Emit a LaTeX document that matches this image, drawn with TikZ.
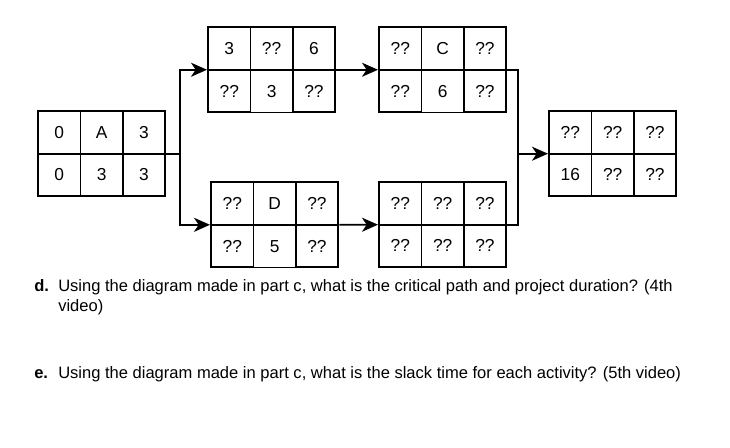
\documentclass[tikz,border=0pt]{standalone}
\usepackage{fontspec}
\setmainfont{Liberation Sans}
\usetikzlibrary{arrows.meta,positioning,matrix,calc}
\tikzset{
  cell/.style={rectangle,draw,line width=1.3pt,minimum width=31.75pt,
               minimum height=31.9pt,inner sep=0pt,
               font=\fontsize{13}{15}\selectfont},
  netbox/.style={matrix of nodes,inner sep=0pt,nodes={cell},
                 column sep=-1.3pt,row sep=-1.3pt,anchor=north west},
  arr/.style={-{Stealth[length=12pt,width=10.5pt,inset=3.5pt]},line width=1.3pt},
  conn/.style={line width=1.3pt},
  qtext/.style={anchor=base west,inner sep=0pt,
                font=\fontsize{12.4}{15}\selectfont},
}
\begin{document}
\begin{tikzpicture}[x=0.75pt,y=-0.75pt]

  \useasboundingbox (0,0) rectangle (730,447);

  \matrix[netbox] (A) at (37,110)  {0 & A & 3 \\ 0 & 3 & 3 \\};
  \matrix[netbox] (B) at (207,26)  {3 & ?? & 6 \\ ?? & 3 & ?? \\};
  \matrix[netbox] (C) at (378,26)  {?? & C & ?? \\ ?? & 6 & ?? \\};
  \matrix[netbox] (D) at (210,181) {?? & D & ?? \\ ?? & 5 & ?? \\};
  \matrix[netbox] (E) at (378,181) {?? & ?? & ?? \\ ?? & ?? & ?? \\};
  \matrix[netbox] (F) at (548,110) {?? & ?? & ?? \\ 16 & ?? & ?? \\};

  \coordinate (splitA) at ($(A.east)+(13.7,0)$);
  \draw[conn] (A.east) -- (splitA);
  \draw[arr] (splitA) |- (B.west);
  \draw[arr] (splitA) |- (D.west);
  \draw[arr] (B.east) -- (C.west);
  \draw[arr] (D.east) -- (E.west);
  \coordinate (joinF) at ($(C.east)+(11,0)$);
  \draw[conn] (C.east) -- (joinF) |- (E.east);
  \draw[arr] (joinF |- F.west) -- (F.west);

  \node[qtext] (dmark) at (34,291) {\textbf{d.}};
  \node[qtext] (dline1) at (58,291)
    {Using the diagram made in part c, what is the critical path and project duration? (4th};
  \node[qtext] (dline2) at (58,311) {video)};
  \node[qtext] (emark) at (34,378.5) {\textbf{e.}};
  \node[qtext] (eline) at (58,378.5)
    {Using the diagram made in part c, what is the slack time for each activity? (5th video)};

\end{tikzpicture}
\end{document}
